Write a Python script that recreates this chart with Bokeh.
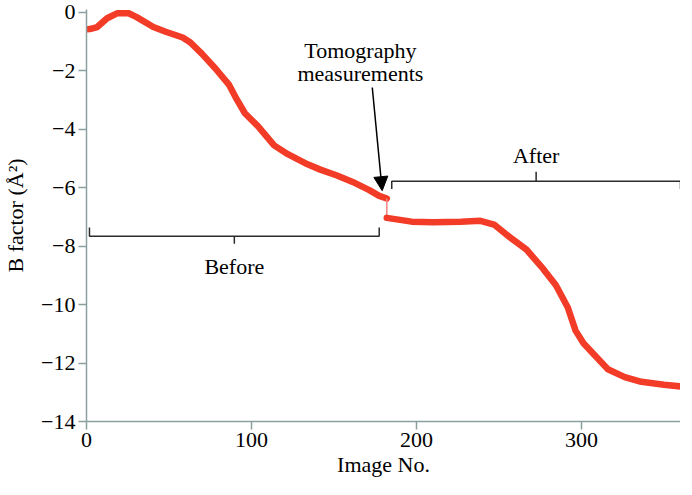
from bokeh.plotting import figure
from bokeh.models import Label, Arrow, NormalHead, FixedTicker, Range1d
from bokeh.embed import file_html
from bokeh.resources import INLINE

# ---- data ----
before_x = [0, 2, 6.5, 12.5, 18.5, 25.6, 30.4, 40.5, 48, 58.3, 63, 70, 78, 86.3, 91, 96,
            104, 113.7, 122, 134, 141.7, 151.8, 161.3, 171.4, 177.4, 182]
before_y = [-0.58, -0.57, -0.5, -0.2, -0.03, -0.03, -0.16, -0.5, -0.66, -0.86, -1.03, -1.42,
            -1.91, -2.47, -2.97, -3.45, -3.9, -4.55, -4.85, -5.2, -5.38, -5.58, -5.8, -6.08,
            -6.28, -6.37]
after_x = [182, 190, 197, 210, 226.8, 238.7, 247, 256.5, 266.7, 276.8, 284.5, 291.7, 296.4,
           301.2, 308.3, 316, 326.2, 336.3, 350, 360]
after_y = [-7.03, -7.1, -7.16, -7.18, -7.16, -7.13, -7.26, -7.69, -8.12, -8.78, -9.34, -10.1,
           -10.89, -11.32, -11.75, -12.21, -12.48, -12.64, -12.74, -12.8]

x_ticks = [0, 100, 200, 300]
y_ticks = [-14, -12, -10, -8, -6, -4, -2, 0]

# annotation anchors (data space)
before_span = [1.8, 177.4]
before_level = -7.66
after_span = [185, 360]
after_level = -5.78

FONT = "'Liberation Serif', 'Times New Roman', 'DejaVu Serif', serif"
RED = "#f23c28"
AXIS = "#8c9f9f"
INK = "#2b2b2b"

p = figure(width=680, height=479, x_range=Range1d(0, 360), y_range=Range1d(-14, 0.1),
           output_backend="svg", toolbar_location=None,
           min_border_left=82, min_border_right=0, min_border_top=9, min_border_bottom=52)
p.outline_line_color = None
p.grid.visible = False
p.background_fill_color = "white"

for ax in (p.xaxis[0], p.yaxis[0]):
    ax.axis_line_color = AXIS
    ax.axis_line_width = 1.5
    ax.major_tick_line_color = AXIS
    ax.major_tick_line_width = 1.5
    ax.major_tick_out = 8
    ax.major_tick_in = 0
    ax.minor_tick_line_color = None
    ax.major_label_text_font = FONT
    ax.major_label_text_font_size = "22px"
    ax.major_label_text_color = "black"
    ax.axis_label_text_font = FONT
    ax.axis_label_text_font_size = "22px"
    ax.axis_label_text_font_style = "normal"
    ax.axis_label_text_color = "black"

p.xaxis.ticker = FixedTicker(ticks=x_ticks)
p.yaxis.ticker = FixedTicker(ticks=y_ticks)
p.yaxis.major_label_overrides = {v: ("\u2212" + str(abs(v)) if v < 0 else str(v)) for v in y_ticks}
p.xaxis.major_label_standoff = 3
p.yaxis.major_label_standoff = 3
p.xaxis.axis_label = "Image No."
p.xaxis.axis_label_standoff = 2
p.yaxis.axis_label = "B factor (\u00c5\u00b2)"
p.yaxis.axis_label_standoff = 10

# curve
p.line(before_x, before_y, line_color=RED, line_width=6.5, line_join="round", line_cap="round")
p.line([before_x[-1], after_x[0]], [before_y[-1], after_y[0]], line_color="#f58080", line_width=1.5)
p.line(after_x, after_y, line_color=RED, line_width=6.5, line_join="round", line_cap="round")

# brackets
bx0, bx1 = before_span
bmid = (bx0 + bx1) / 2
ax0, ax1 = after_span
amid = (ax0 + ax1) / 2
p.multi_line(
    xs=[[bx0, bx0, bx1, bx1], [bmid, bmid],
        [ax0, ax0, ax1, ax1], [amid, amid]],
    ys=[[before_level + 0.3, before_level, before_level, before_level + 0.3],
        [before_level, before_level - 0.26],
        [after_level - 0.26, after_level, after_level, after_level - 0.26],
        [after_level, after_level + 0.33]],
    line_color=INK, line_width=1.5)

p.add_layout(Label(x=bmid, y=-8.68, text="Before", text_font=FONT, text_font_size="22px",
                   text_align="center", text_baseline="middle", text_color="black"))
p.add_layout(Label(x=amid, y=-4.9, text="After", text_font=FONT, text_font_size="22px",
                   text_align="center", text_baseline="middle", text_color="black"))
p.add_layout(Label(x=166, y=-1.29, text="Tomography", text_font=FONT, text_font_size="22px",
                   text_align="center", text_baseline="middle", text_color="black"))
p.add_layout(Label(x=166, y=-2.08, text="measurements", text_font=FONT, text_font_size="22px",
                   text_align="center", text_baseline="middle", text_color="black"))

p.add_layout(Arrow(end=NormalHead(size=14, fill_color="black", line_color="black"),
                   x_start=173.2, y_start=-2.57, x_end=179.2, y_end=-6.1,
                   line_color="black", line_width=1.5))

open("out.html", "w").write(file_html(p, INLINE))
